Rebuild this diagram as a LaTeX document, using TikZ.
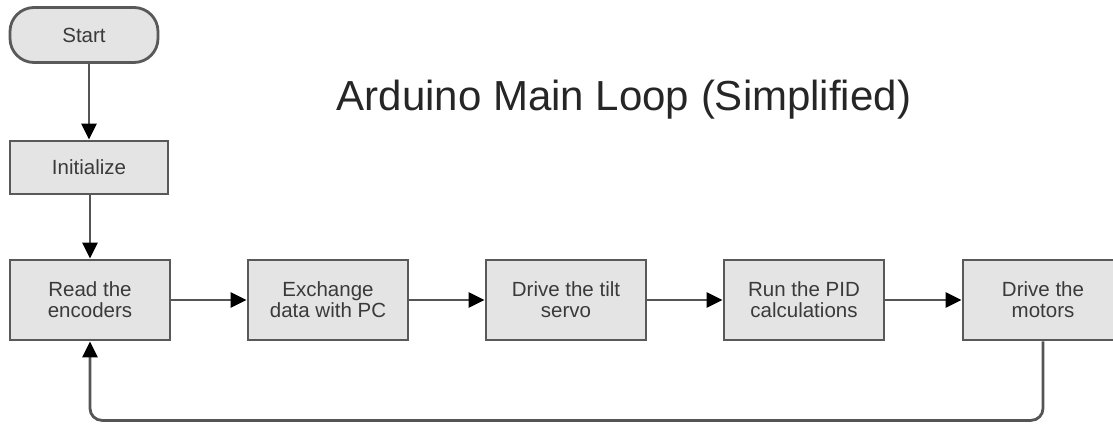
\documentclass[tikz,border=0pt]{standalone}
\usepackage{fontspec}
\setmainfont{Liberation Sans}
\usetikzlibrary{arrows.meta,positioning,calc}
\definecolor{boxfill}{HTML}{E4E4E4}
\definecolor{boxline}{HTML}{595959}
\definecolor{txt}{HTML}{3A3A3A}
\definecolor{conn}{HTML}{555555}
\begin{document}
\begin{tikzpicture}[x=1pt,y=-1pt,
  stepbox/.style={draw=boxline,line width=2.8pt,fill=boxfill,text=txt,
    minimum width=160pt,minimum height=80pt,inner sep=0pt,align=center,
    font=\fontsize{20.5}{21}\selectfont},
  conn/.style={draw=conn,line width=2.8pt,-{Triangle[length=16pt,width=15pt,color=black]}}
]
\useasboundingbox (0,0) rectangle (1113,423);
\begin{scope}
\clip (0,0) rectangle (1113,423);
\node[stepbox,rounded corners=24pt,minimum width=148pt,minimum height=55pt] (start) at (84,35) {Start};
\node[stepbox,minimum width=158pt,minimum height=53pt] (init) at (89,167.5) {Initialize};
\node[stepbox] (read) at (90,300) {Read the\\encoders};
\node[stepbox] (exch) at (328,300) {Exchange\\data with PC};
\node[stepbox] (tilt) at (566,300) {Drive the tilt\\servo};
\node[stepbox] (pid) at (804,300) {Run the PID\\calculations};
\node[stepbox] (mot) at (1043,300) {Drive the\\motors};
\end{scope}
\node[anchor=base,text=black!85,font=\fontsize{42}{46}\selectfont] (title) at (624,110) {Arduino Main Loop (Simplified)};
\draw[conn] (init.north |- start.south) -- (init.north);
\draw[conn] (init.south -| read.north) -- (read.north);
\draw[conn] (read) -- (exch);
\draw[conn] (exch) -- (tilt);
\draw[conn] (tilt) -- (pid);
\draw[conn] (pid) -- (mot);
\coordinate (lowr) at ($(mot.south)+(0,79)$);
\draw[conn,rounded corners=12pt] (mot.south) -- (lowr) -| (read.south);
\end{tikzpicture}
\end{document}
